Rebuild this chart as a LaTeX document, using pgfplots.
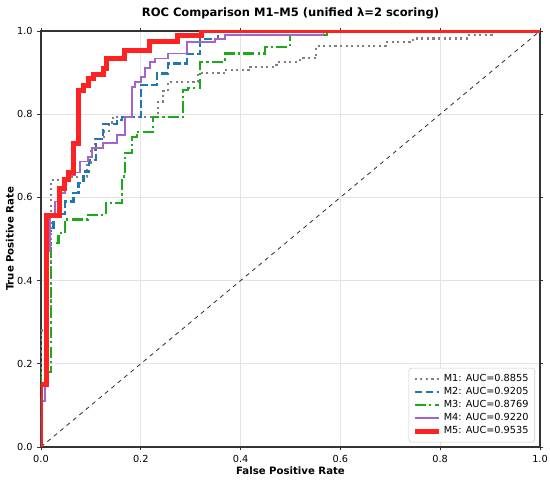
\documentclass[border=0pt]{standalone}
\usepackage{fontspec}
\setmainfont{DejaVu Sans}
\usepackage{pgfplots}
\pgfplotsset{compat=1.18}
\definecolor{mgray}{HTML}{808080}
\definecolor{mblue}{HTML}{1F77B4}
\definecolor{mgreen}{HTML}{1AAA1A}
\definecolor{mpurple}{HTML}{A066CC}
\definecolor{mred}{HTML}{FF2222}
\definecolor{framecol}{HTML}{333333}
\begin{document}
\begin{tikzpicture}
\useasboundingbox (-29.5pt,-24.5pt) rectangle (366.5pt,321.8pt);
\begin{axis}[
  at={(0,0)}, anchor=south west,
  scale only axis, width=359.3pt, height=299.5pt,
  xmin=0, xmax=1, ymin=0, ymax=1,
  xtick={0,0.2,0.4,0.6,0.8,1.0}, ytick={0,0.2,0.4,0.6,0.8,1.0},
  /pgf/number format/assume math mode=true,
  xticklabel style={/pgf/number format/fixed,/pgf/number format/fixed zerofill,/pgf/number format/precision=1},
  yticklabel style={/pgf/number format/fixed,/pgf/number format/fixed zerofill,/pgf/number format/precision=1},
  tick label style={font=\fontsize{7}{8}\selectfont, color=black},
  tick align=outside, major tick length=2.5pt,
  tick style={color=framecol, line width=0.6pt},
  axis line style={color=framecol, line width=0.8pt},
  grid=major, major grid style={color=gray!22, line width=0.5pt},
  title={\bfseries ROC Comparison M1–M5 (unified λ=2 scoring)},
  every axis title/.style={at={(0.5,1)}, anchor=base, yshift=10.3pt, font=\fontsize{8.3}{10}\selectfont},
  xlabel={\bfseries False Positive Rate},
  ylabel={\bfseries True Positive Rate},
  xlabel style={font=\fontsize{7.3}{9}\selectfont, at={(0.5,0)}, anchor=north, yshift=-11pt},
  every axis y label/.style={at={(0,0.5)}, rotate=90, anchor=south, yshift=16pt, font=\fontsize{7.3}{9}\selectfont},
  legend style={at={(0.99,0.011)}, anchor=south east, font=\fontsize{7}{8}\selectfont,
    draw=gray!40, rounded corners=2pt, fill=white, row sep=-1.3pt, inner sep=2.5pt},
  legend cell align=left,
]
\addplot[color=framecol, dashed, line width=0.6pt, forget plot] coordinates {(0,0) (1,1)};

\addplot[color=mgray, line width=1.5pt, dash pattern=on 1.5pt off 2.5pt] coordinates {
(0,0) (0,0.28) (0.02,0.28) (0.02,0.642) (0.06,0.642) (0.06,0.65) (0.093,0.65) (0.093,0.678) (0.1,0.678) (0.1,0.714) (0.108,0.714) (0.108,0.74) (0.127,0.74) (0.127,0.76) (0.137,0.76) (0.137,0.78) (0.145,0.78) (0.145,0.794) (0.235,0.794) (0.235,0.83) (0.245,0.83) (0.245,0.855) (0.255,0.855) (0.255,0.878) (0.315,0.878) (0.315,0.898) (0.369,0.898) (0.369,0.906) (0.419,0.906) (0.419,0.914) (0.472,0.914) (0.472,0.926) (0.519,0.926) (0.519,0.934) (0.552,0.934) (0.552,0.964) (0.693,0.964) (0.693,0.973) (0.746,0.973) (0.746,0.982) (0.853,0.982) (0.853,0.99) (0.903,0.99) (0.903,1.0) (1,1)};
\addlegendentry{M1: AUC=0.8855}

\addplot[color=mblue, line width=1.6pt, dash pattern=on 5.5pt off 2.4pt] coordinates {
(0,0) (0,0.15) (0.01,0.15) (0.01,0.52) (0.025,0.52) (0.025,0.56) (0.048,0.56) (0.048,0.59) (0.065,0.59) (0.065,0.61) (0.075,0.61) (0.075,0.634) (0.085,0.634) (0.085,0.662) (0.097,0.662) (0.097,0.69) (0.11,0.69) (0.11,0.74) (0.125,0.74) (0.125,0.776) (0.152,0.776) (0.152,0.786) (0.163,0.786) (0.163,0.794) (0.2,0.794) (0.2,0.87) (0.232,0.87) (0.232,0.898) (0.255,0.898) (0.255,0.922) (0.292,0.922) (0.292,0.944) (0.319,0.944) (0.319,0.98) (0.355,0.98) (0.355,1.0) (1,1)};
\addlegendentry{M2: AUC=0.9205}

\addplot[color=mgreen, line width=1.6pt, dash pattern=on 8pt off 2.4pt on 1.5pt off 2.4pt] coordinates {
(0,0) (0,0.18) (0.02,0.18) (0.02,0.49) (0.035,0.49) (0.035,0.514) (0.048,0.514) (0.048,0.547) (0.094,0.547) (0.094,0.558) (0.13,0.558) (0.13,0.586) (0.162,0.586) (0.162,0.65) (0.168,0.65) (0.168,0.707) (0.182,0.707) (0.182,0.746) (0.192,0.746) (0.192,0.758) (0.225,0.758) (0.225,0.793) (0.285,0.793) (0.285,0.858) (0.295,0.858) (0.295,0.862) (0.319,0.862) (0.319,0.926) (0.369,0.926) (0.369,0.946) (0.449,0.946) (0.449,0.962) (0.499,0.962) (0.499,0.99) (0.573,0.99) (0.573,1.0) (1,1)};
\addlegendentry{M3: AUC=0.8769}

\addplot[color=mpurple, line width=1.3pt] coordinates {
(0,0) (0,0.11) (0.008,0.11) (0.008,0.47) (0.018,0.47) (0.018,0.56) (0.028,0.56) (0.028,0.59) (0.038,0.59) (0.038,0.611) (0.048,0.611) (0.048,0.638) (0.058,0.638) (0.058,0.654) (0.068,0.654) (0.068,0.66) (0.078,0.66) (0.078,0.686) (0.095,0.686) (0.095,0.698) (0.102,0.698) (0.102,0.718) (0.125,0.718) (0.125,0.73) (0.152,0.73) (0.152,0.75) (0.168,0.75) (0.168,0.793) (0.182,0.793) (0.182,0.866) (0.188,0.866) (0.188,0.878) (0.2,0.878) (0.2,0.889) (0.208,0.889) (0.208,0.911) (0.218,0.911) (0.218,0.926) (0.228,0.926) (0.228,0.934) (0.255,0.934) (0.255,0.946) (0.292,0.946) (0.292,0.973) (0.349,0.973) (0.349,0.981) (0.369,0.981) (0.369,0.99) (0.566,0.99) (0.566,1.0) (1,1)};
\addlegendentry{M4: AUC=0.9220}

\addplot[color=mred, line width=3.6pt] coordinates {
(0,0) (0,0.15) (0.011,0.15) (0.011,0.557) (0.038,0.557) (0.038,0.622) (0.047,0.622) (0.047,0.642) (0.055,0.642) (0.055,0.66) (0.065,0.66) (0.065,0.73) (0.075,0.73) (0.075,0.858) (0.085,0.858) (0.085,0.87) (0.095,0.87) (0.095,0.886) (0.105,0.886) (0.105,0.896) (0.125,0.896) (0.125,0.91) (0.132,0.91) (0.132,0.934) (0.168,0.934) (0.168,0.954) (0.218,0.954) (0.218,0.974) (0.274,0.974) (0.274,0.99) (0.322,0.99) (0.322,1.0) (1,1)};
\addlegendentry{M5: AUC=0.9535}
\end{axis}
\end{tikzpicture}
\end{document}
